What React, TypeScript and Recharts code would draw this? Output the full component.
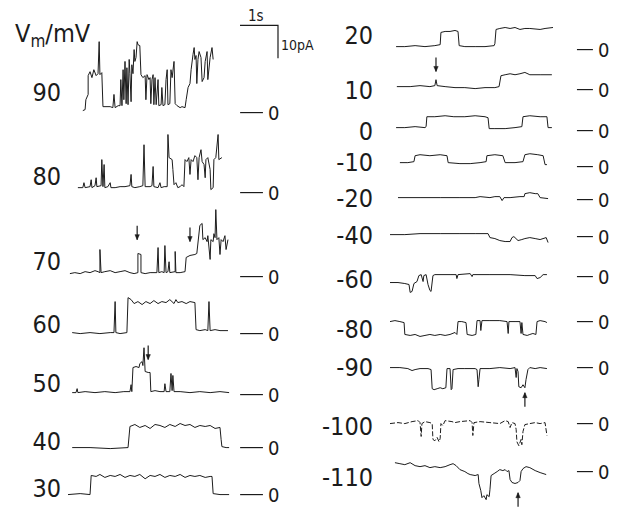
import { LineChart, Line, XAxis, YAxis, ReferenceLine, ReferenceDot } from 'recharts';

// single-channel current records, time in s, current in pA
type Pt = [number, number];

const v90: Pt[] = [[0.39,0.6],[0.45,0.9],[0.47,3.9],[0.53,5.5],[0.53,11.2],[0.58,12.4],[0.63,10.6],[0.68,13],[0.74,11.2],[0.79,11.8],[0.82,21.5],[0.84,11.5],[0.89,12.1],[0.92,1.8],[1.11,1.8],[1.18,1.5],[1.21,5.5],[1.24,1.5],[1.32,2.1],[1.37,2.1],[1.39,10],[1.42,2.1],[1.45,13],[1.47,3.9],[1.5,15.5],[1.53,2.7],[1.55,13.6],[1.58,2.4],[1.61,16.1],[1.63,11.8],[1.66,3.3],[1.68,14.5],[1.71,11.8],[1.74,19.1],[1.76,15.5],[1.79,16.7],[1.82,21.5],[1.84,20.6],[1.89,20.3],[1.92,11.5],[1.97,10.6],[2.03,11.2],[2.05,3.9],[2.08,11.5],[2.13,10],[2.16,10.6],[2.18,2.7],[2.21,10],[2.24,11.5],[2.26,2.4],[2.29,10.6],[2.32,2.4],[2.37,10],[2.39,2.1],[2.45,2.4],[2.47,7.6],[2.5,2.1],[2.55,2.4],[2.58,10],[2.61,13],[2.63,2.4],[2.68,2.7],[2.71,13],[2.74,10.6],[2.79,15.5],[2.82,2.7],[2.87,2.1],[2.95,1.5],[3.0,1.8],[3.08,1.5],[3.11,3.9],[3.16,7.6],[3.21,8.8],[3.24,13],[3.29,17.6],[3.32,19.7],[3.34,16.1],[3.37,17.3],[3.39,8.8],[3.42,16.1],[3.45,18.5],[3.5,16.7],[3.53,9.4],[3.58,10.6],[3.61,15.5],[3.66,18.5],[3.68,10],[3.74,16.7],[3.79,19.7],[3.82,16.1]];
const v80: Pt[] = [[0.26,1.5],[0.39,1.5],[0.42,3],[0.45,1.5],[0.58,1.8],[0.61,3.9],[0.63,1.5],[0.71,2.1],[0.74,4.5],[0.76,1.8],[0.87,2.1],[0.89,10],[0.92,1.8],[0.95,8.5],[0.97,1.5],[1.05,1.8],[1.11,3],[1.13,1.5],[1.24,1.5],[1.37,1.8],[1.5,1.8],[1.63,2.1],[1.66,5.5],[1.68,1.8],[1.76,1.5],[1.89,1.8],[1.97,2.1],[2.0,14.5],[2.03,1.8],[2.16,1.8],[2.21,2.1],[2.24,7.9],[2.26,1.8],[2.37,1.5],[2.42,3],[2.45,1.5],[2.53,1.8],[2.61,1.8],[2.63,17.6],[2.66,10.6],[2.74,10],[2.76,7],[2.79,2.4],[2.84,3],[2.89,1.5],[2.95,1.8],[3.0,2.4],[3.05,1.8],[3.08,10],[3.13,9.4],[3.18,10.6],[3.21,5.5],[3.24,10],[3.29,9.4],[3.34,11.2],[3.39,10.6],[3.42,3.9],[3.45,10.6],[3.5,13],[3.53,9.4],[3.58,8.5],[3.61,4.5],[3.63,10],[3.68,10.6],[3.74,7],[3.76,0.9],[3.82,1.5],[3.84,10],[3.89,10.6],[3.95,17.6],[3.97,10],[4.05,10.6]];
const v70: Pt[] = [[0.05,0.9],[0.18,1.2],[0.32,0.9],[0.45,1.5],[0.58,1.2],[0.71,1.8],[0.79,1.5],[0.84,1.2],[0.84,8.2],[0.87,1.2],[0.97,1.5],[1.11,1.8],[1.24,1.2],[1.37,1.5],[1.5,1.8],[1.63,1.2],[1.74,0.9],[1.84,1.2],[1.84,7],[1.92,6.7],[1.92,1.2],[2.03,0.9],[2.16,1.2],[2.34,1.2],[2.37,8.8],[2.39,1.2],[2.47,1.5],[2.53,1.2],[2.55,9.4],[2.58,1.2],[2.63,1.5],[2.66,4.5],[2.68,1.2],[2.82,1.5],[2.82,7.6],[2.84,1.2],[2.95,1.2],[3.08,1.5],[3.11,5.8],[3.21,6.4],[3.34,6.7],[3.39,7],[3.47,15.5],[3.53,16.1],[3.55,11.2],[3.61,11.8],[3.66,10.6],[3.68,12.4],[3.74,5.2],[3.76,11.2],[3.82,10.6],[3.84,13],[3.87,11.8],[3.89,20.3],[3.92,11.2],[3.97,11.8],[4.0,6.7],[4.03,11.2],[4.08,10.6],[4.13,12.4],[4.16,8.2],[4.21,11.2]];
const v60: Pt[] = [[0.11,0.3],[0.32,0],[0.58,0.3],[0.84,0],[1.11,0.3],[1.21,0.3],[1.24,9.7],[1.26,0.3],[1.37,0],[1.55,0.3],[1.58,10.9],[1.66,10.3],[1.74,9.1],[1.84,9.7],[1.95,8.8],[2.05,9.7],[2.16,9.1],[2.26,10],[2.37,9.1],[2.47,9.7],[2.58,9.4],[2.68,10.3],[2.79,9.1],[2.84,10.3],[2.89,9.4],[3.0,9.7],[3.11,9.1],[3.21,9.7],[3.34,9.4],[3.37,1.2],[3.47,0.9],[3.61,1.2],[3.68,0.9],[3.71,9.7],[3.74,0.9],[3.87,1.2],[4.0,0.9],[4.21,0.9]];
const v50: Pt[] = [[0.11,0.6],[0.21,0.6],[0.24,1.8],[0.26,0.6],[0.45,0.9],[0.71,0.6],[0.97,0.9],[1.24,0.6],[1.47,0.9],[1.63,0.9],[1.66,3],[1.68,0.9],[1.71,8.2],[1.79,8.5],[1.87,8.2],[1.89,9.4],[1.95,10],[1.97,8.8],[2.0,14.2],[2.03,7],[2.11,6.7],[2.16,6.7],[2.18,0.9],[2.29,1.2],[2.42,0.9],[2.53,0.9],[2.55,3.3],[2.58,0.9],[2.68,0.9],[2.71,6.4],[2.74,1.2],[2.76,5.8],[2.79,0.9],[2.95,0.9],[3.21,0.6],[3.47,0.9],[3.74,0.6],[4.0,0.9],[4.24,0.6]];
const v40: Pt[] = [[0.11,0],[0.58,0],[1.11,-0.3],[1.58,0],[1.63,6.4],[1.76,7],[1.89,6.1],[2.03,6.7],[2.16,5.8],[2.29,7],[2.42,6.7],[2.55,6.1],[2.68,7],[2.82,6.4],[2.95,7.3],[3.08,6.7],[3.21,7],[3.34,6.1],[3.47,6.7],[3.61,6.4],[3.74,6.7],[3.87,5.8],[4.0,6.1],[4.03,2.4],[4.05,0.3],[4.16,0],[4.24,0]];
const v30: Pt[] = [[0,0],[0.32,0.3],[0.58,0],[0.61,5.8],[0.74,5.5],[0.84,6.1],[0.97,5.2],[1.11,5.8],[1.24,5.5],[1.37,6.1],[1.5,5.2],[1.63,5.8],[1.76,5.5],[1.89,6.1],[2.03,4.8],[2.16,5.8],[2.29,5.5],[2.42,6.1],[2.55,5.2],[2.68,5.8],[2.82,5.5],[2.95,6.1],[3.08,5.2],[3.21,5.8],[3.34,5.5],[3.47,5.8],[3.61,5.2],[3.74,5.5],[3.79,5.5],[3.82,0.3],[4.0,0],[4.24,0]];

const v20: Pt[] = [[0.16,0.9],[0.39,0.9],[0.66,1.2],[0.92,0.9],[1.18,1.2],[1.32,1.5],[1.34,5.2],[1.45,5.5],[1.58,5.5],[1.71,5.8],[1.79,5.5],[1.82,1.2],[1.97,0.9],[2.24,0.9],[2.5,0.9],[2.74,1.2],[2.76,1.8],[2.79,6.1],[2.89,6.4],[3.03,6.7],[3.16,6.4],[3.29,6.7],[3.42,6.1],[3.55,6.4],[3.68,6.4],[3.95,6.1],[4.08,6.4],[4.29,6.7]];
const v10: Pt[] = [[0.18,0.9],[0.53,0.9],[0.79,1.2],[1.05,0.9],[1.18,1.2],[1.21,3],[1.24,1.2],[1.45,0.9],[1.71,0.6],[1.97,0.6],[2.24,0.3],[2.5,0.6],[2.76,0.6],[2.87,0.9],[2.92,4.2],[3.03,4.5],[3.16,4.8],[3.29,4.5],[3.42,4.8],[3.55,5.2],[3.68,4.5],[3.95,4.5],[4.26,4.5]];
const v0: Pt[] = [[0.16,0.9],[0.39,0.9],[0.66,1.2],[0.92,0.9],[0.95,1.2],[0.97,4.2],[1.18,4.2],[1.45,4.5],[1.68,4.2],[1.97,4.2],[2.24,4.5],[2.5,4.2],[2.58,3.9],[2.61,0.6],[2.76,0.6],[3.03,0.6],[3.29,0.9],[3.47,1.2],[3.5,4.2],[3.68,4.5],[3.95,4.2],[4.13,4.2],[4.16,0.9],[4.26,0.9]];
const vm10: Pt[] = [[0.26,1.2],[0.47,1.2],[0.63,1.5],[0.66,3.3],[0.79,3.6],[1.05,3.3],[1.32,3.6],[1.5,3.3],[1.53,1.2],[1.84,0.9],[2.11,0.9],[2.37,1.2],[2.53,1.5],[2.55,3.3],[2.76,3.6],[2.97,3.3],[3.03,1.2],[3.29,1.2],[3.5,1.5],[3.55,3.6],[3.68,3.9],[3.89,3.6],[4.03,3.3],[4.08,0.6],[4.13,0.6]];
const vm20: Pt[] = [[0.21,0.6],[0.79,0.6],[1.32,0.6],[1.84,0.6],[2.24,0.6],[2.37,0.9],[2.63,0.6],[2.76,0.9],[2.89,0.9],[2.95,-0.3],[3.0,0.6],[3.16,0.6],[3.42,0.9],[3.53,0.9],[3.55,1.8],[3.68,2.1],[3.82,1.8],[3.89,1.8],[3.95,0.6],[4.16,0.3]];
const vm40: Pt[] = [[0,0.6],[0.39,0.6],[0.79,0.9],[1.32,0.9],[1.84,0.9],[2.24,0.9],[2.58,0.9],[2.63,-0.3],[2.76,-0.6],[2.89,-1.2],[3.03,-1.5],[3.16,-1.5],[3.21,-0.3],[3.26,0],[3.37,-1.2],[3.47,-0.9],[3.55,-0.6],[3.68,-0.3],[3.82,-0.6],[3.95,-0.9],[4.11,-0.3],[4.16,-1.8]];
const vm60: Pt[] = [[0,-1.8],[0.21,-1.8],[0.39,-2.1],[0.5,-2.4],[0.53,-4.8],[0.58,-4.5],[0.63,-2.1],[0.71,-1.5],[0.76,0.3],[0.82,0.6],[0.87,-1.5],[0.89,0.3],[0.95,0.6],[1.0,-2.4],[1.05,-4.2],[1.08,-4.5],[1.13,0.3],[1.18,0.6],[1.58,0.6],[1.74,0.6],[1.76,-0.6],[1.79,0.6],[2.11,0.9],[2.16,0],[2.18,0.6],[2.63,0.6],[3.16,0.6],[3.55,0.3],[3.82,0.3],[3.87,-0.6],[3.95,-0.3],[4.03,0.6],[4.13,0.6]];
const vm80: Pt[] = [[0,0],[0.13,0.3],[0.26,0],[0.37,-0.3],[0.39,-3.9],[0.53,-4.2],[0.66,-3.9],[0.79,-4.5],[0.92,-4.2],[1.05,-3.9],[1.18,-4.2],[1.32,-3.9],[1.45,-4.2],[1.58,-3.9],[1.71,-3.3],[1.76,-3.9],[1.79,0],[1.89,0],[2.0,-0.3],[2.03,-3.9],[2.16,-4.2],[2.26,-3.9],[2.29,0.3],[2.37,0.3],[2.39,-2.7],[2.42,0.3],[2.63,0.3],[2.89,0.3],[3.08,0],[3.11,-3.6],[3.13,0],[3.29,0],[3.42,0],[3.45,-3.6],[3.47,-0.3],[3.5,-3.9],[3.61,-4.2],[3.68,-3.9],[3.76,-3.6],[3.84,-3.9],[3.87,0],[3.95,0.3],[4.08,0],[4.13,-0.3]];
const vm90: Pt[] = [[0,0],[0.26,0],[0.47,-0.3],[0.58,-0.9],[0.66,-0.6],[0.79,-0.3],[1.0,-0.3],[1.08,-0.6],[1.11,-6.4],[1.16,-6.7],[1.24,-6.4],[1.32,-6.1],[1.39,-6.4],[1.47,-6.1],[1.5,-0.3],[1.58,-0.3],[1.61,-6.7],[1.63,-6.4],[1.66,-0.6],[1.79,-0.3],[1.97,-0.3],[2.24,-0.3],[2.29,-0.6],[2.32,-5.8],[2.34,-3.6],[2.37,-0.3],[2.63,-0.3],[2.89,0],[3.16,-0.3],[3.29,0],[3.32,-3],[3.34,-0.3],[3.37,-1.2],[3.39,-5.8],[3.45,-6.1],[3.5,-5.2],[3.55,-6.1],[3.58,-3.6],[3.63,-0.6],[3.68,0],[3.82,-0.3],[3.95,0],[4.13,-0.3]];
const vm100: Pt[] = [[0,0],[0.21,0.3],[0.39,0],[0.58,0.6],[0.74,0.9],[0.79,0.3],[0.82,-3.9],[0.84,0],[0.92,0.6],[1.05,0.3],[1.11,0],[1.13,-4.8],[1.18,-5.2],[1.24,-4.2],[1.29,-5.5],[1.32,-4.5],[1.34,0],[1.39,-0.6],[1.45,0.9],[1.63,0.6],[1.71,0.3],[1.84,0.6],[2.11,0.9],[2.16,0.3],[2.18,-3.6],[2.21,0.3],[2.37,0.6],[2.63,0.3],[2.89,0],[3.03,0.9],[3.11,0.6],[3.16,-1.2],[3.21,0.3],[3.29,0],[3.32,-1.8],[3.34,-5.5],[3.39,-6.7],[3.45,-4.8],[3.47,-6.4],[3.5,-2.4],[3.55,-0.3],[3.68,0],[3.82,0.3],[3.95,0],[4.08,0.3],[4.13,-3.6]];
const vm110: Pt[] = [[0.13,2.7],[0.26,2.4],[0.39,2.1],[0.53,2.7],[0.66,1.8],[0.79,1.5],[0.92,1.8],[1.05,1.2],[1.18,1.5],[1.32,1.2],[1.45,1.5],[1.58,2.1],[1.66,2.4],[1.74,1.8],[1.84,0.6],[1.97,0],[2.05,-0.6],[2.11,-0.9],[2.24,-1.2],[2.32,-0.9],[2.34,-3.6],[2.39,-5.8],[2.42,-7.9],[2.47,-7.3],[2.53,-8.5],[2.55,-7],[2.61,-7.6],[2.63,-5.5],[2.66,-1.2],[2.74,-0.6],[2.82,0],[2.89,0.6],[2.97,0.3],[3.03,0.6],[3.08,0],[3.13,0.3],[3.16,-2.4],[3.21,-3.3],[3.29,-3.6],[3.37,-3.3],[3.42,-2.7],[3.45,0],[3.5,0.9],[3.58,1.5],[3.68,1.2],[3.82,0.3],[3.95,-0.3],[4.11,-0.9]];

// scale bar: 1 s horizontal, 10 pA vertical
const scaleBar: Pt[] = [[0,10],[1,10],[1,0]];

// arrows marking events [t, pA]
const arrows70: Pt[] = [[1.82,11.2],[3.21,10.6]];
const arrows50: Pt[] = [[2.11,10.6]];
const arrows10: Pt[] = [[1.21,5.5]];
const arrowsM90: Pt[] = [[3.55,-7.6]];
const arrowsM110: Pt[] = [[3.37,-6.4]];

const FONT = '"Liberation Sans Narrow", "DejaVu Sans Condensed", "Liberation Sans", Arial, sans-serif';
const INK = '#1b1b1b';
const PX_S = 38;
const PX_PA = 3.3;
const I_MIN = -12;
const I_MAX = 22;

const COLS = {
  left: { x: 68, tMax: 5.7, zero: [4.53, 5.13], labelRight: 61 },
  right: { x: 390, tMax: 6.0, zero: [4.92, 5.34], labelRight: 373 },
};

type Col = 'left' | 'right';
type TraceDef = { label: string; pts: Pt[]; col: Col; y0: number; labelY: number; arrows?: Pt[]; up?: boolean; dash?: string };

const traces: TraceDef[] = [
  { label: '90', pts: v90, col: 'left', y0: 113, labelY: 92 },
  { label: '80', pts: v80, col: 'left', y0: 193, labelY: 176 },
  { label: '70', pts: v70, col: 'left', y0: 277, labelY: 261, arrows: arrows70 },
  { label: '60', pts: v60, col: 'left', y0: 334, labelY: 324 },
  { label: '50', pts: v50, col: 'left', y0: 395, labelY: 383, arrows: arrows50 },
  { label: '40', pts: v40, col: 'left', y0: 448, labelY: 441 },
  { label: '30', pts: v30, col: 'left', y0: 495, labelY: 488 },
  { label: '20', pts: v20, col: 'right', y0: 50, labelY: 35 },
  { label: '10', pts: v10, col: 'right', y0: 90, labelY: 90, arrows: arrows10 },
  { label: '0', pts: v0, col: 'right', y0: 131, labelY: 131 },
  { label: '-10', pts: vm10, col: 'right', y0: 167, labelY: 162 },
  { label: '-20', pts: vm20, col: 'right', y0: 200, labelY: 198 },
  { label: '-40', pts: vm40, col: 'right', y0: 237, labelY: 235 },
  { label: '-60', pts: vm60, col: 'right', y0: 277, labelY: 279 },
  { label: '-80', pts: vm80, col: 'right', y0: 322, labelY: 329 },
  { label: '-90', pts: vm90, col: 'right', y0: 368, labelY: 367, arrows: arrowsM90, up: true },
  { label: '-100', pts: vm100, col: 'right', y0: 424, labelY: 426, dash: '5 2' },
  { label: '-110', pts: vm110, col: 'right', y0: 472, labelY: 477, arrows: arrowsM110, up: true },
];

const rows = (pts: Pt[]) => pts.map(([t, i]) => ({ t, i }));

function Arrow({ cx, cy, up }: { cx: number; cy: number; up: boolean }) {
  const s = up ? 1 : -1;
  return (
    <g stroke={INK} fill={INK}>
      <line x1={cx} y1={cy} x2={cx} y2={cy + s * 14} strokeWidth={1.2} />
      <path d={`M${cx - 2.2},${cy + s * 5} L${cx + 2.2},${cy + s * 5} L${cx},${cy} Z`} strokeWidth={0.5} />
    </g>
  );
}

function Trace({ d }: { d: TraceDef }) {
  const c = COLS[d.col];
  const w = c.tMax * PX_S;
  const h = (I_MAX - I_MIN) * PX_PA;
  return (
    <div style={{ position: 'absolute', left: c.x, top: d.y0 - I_MAX * PX_PA }}>
      <LineChart width={w} height={h} margin={{ top: 0, right: 0, bottom: 0, left: 0 }}>
        <XAxis type="number" dataKey="t" domain={[0, c.tMax]} hide allowDataOverflow />
        <YAxis type="number" domain={[I_MIN, I_MAX]} hide allowDataOverflow />
        <ReferenceLine
          segment={[{ x: c.zero[0], y: 0 }, { x: c.zero[1], y: 0 }]}
          stroke={INK}
          strokeWidth={1.2}
          label={{ value: '0', position: 'right', offset: 5, fill: INK, fontSize: 20, fontFamily: FONT }}
        />
        <Line
          data={rows(d.pts)}
          dataKey="i"
          type="linear"
          dot={false}
          stroke={INK}
          strokeWidth={1}
          strokeDasharray={d.dash}
          isAnimationActive={false}
        />
        {(d.arrows || []).map(([t, i], k) => (
          <ReferenceDot key={k} x={t} y={i} shape={(p: any) => <Arrow cx={p.cx} cy={p.cy} up={!!d.up} />} />
        ))}
      </LineChart>
    </div>
  );
}

function VLabel({ d }: { d: TraceDef }) {
  const c = COLS[d.col];
  return (
    <div
      style={{
        position: 'absolute',
        left: c.labelRight - 60,
        width: 60,
        top: d.labelY - 12.3,
        fontSize: 25,
        lineHeight: '25px',
        textAlign: 'right',
      }}
    >
      {d.label}
    </div>
  );
}

export default function App() {
  return (
    <div
      style={{
        position: 'absolute',
        left: 0,
        top: 0,
        width: 620,
        height: 507,
        overflow: 'hidden',
        background: '#fff',
        fontFamily: FONT,
        color: INK,
      }}
    >
      <div style={{ position: 'absolute', left: 15, top: 21, fontSize: 25, lineHeight: '25px' }}>
        V<span style={{ fontSize: 17, position: 'relative', top: 5 }}>m</span>/mV
      </div>

      <div style={{ position: 'absolute', left: 240, top: 25 - PX_PA }}>
        <LineChart width={1.2 * PX_S} height={12 * PX_PA} margin={{ top: 0, right: 0, bottom: 0, left: 0 }}>
          <XAxis type="number" dataKey="t" domain={[0, 1.2]} hide />
          <YAxis type="number" domain={[-1, 11]} hide />
          <Line data={rows(scaleBar)} dataKey="i" type="linear" dot={false} stroke={INK} strokeWidth={1.2} isAnimationActive={false} />
        </LineChart>
      </div>
      <div style={{ position: 'absolute', left: 248, top: 9, fontSize: 15, lineHeight: '15px' }}>1s</div>
      <div style={{ position: 'absolute', left: 281, top: 38, fontSize: 14, lineHeight: '14px' }}>10pA</div>

      {traces.map((d) => (
        <VLabel key={'l' + d.label} d={d} />
      ))}
      {traces.map((d) => (
        <Trace key={d.label} d={d} />
      ))}
    </div>
  );
}
